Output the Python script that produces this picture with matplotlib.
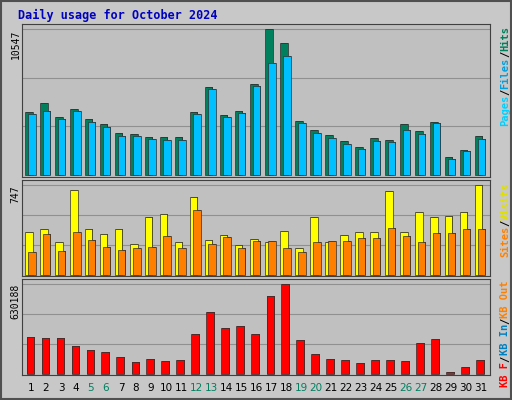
import matplotlib
matplotlib.use("Agg")
import matplotlib.pyplot as plt
import numpy as np

days = list(range(1, 32))
weekends = [5, 6, 12, 13, 19, 20, 26, 27]
hits = [4550,5200,4190,4770,4040,3680,3030,2960,2740,2740,2740,4550,6350,4330,4620,6570,10547,9530,3900,3250,2890,2450,2020,2670,2530,3680,3180,3830,1300,1800,2820]
files = [4400,4620,4040,4620,3830,3470,2820,2820,2600,2530,2530,4400,6210,4190,4480,6430,8090,8590,3750,3030,2670,2240,1880,2450,2380,3250,2960,3750,1160,1730,2600]
visits = [361,386,271,706,378,337,386,255,484,509,271,649,287,328,246,296,271,369,222,484,271,328,353,361,698,361,525,484,493,525,747]
sites = [189,337,197,353,287,230,205,222,230,320,222,542,255,312,222,279,279,222,189,271,279,279,304,304,394,320,271,345,345,378,386]
kbytes = [256000,249000,249000,194000,166000,152000,118000,83000,104000,90000,97000,277000,436000,325000,339000,277000,547000,630188,235000,138000,104000,97000,76000,97000,97000,90000,215000,242000,14000,48000,97000]

fig = plt.figure(figsize=(5.12, 4.0), dpi=100, facecolor="#C8C8C8")
mono = "DejaVu Sans Mono"
fig.text(0.035, 0.962, "Daily usage for October 2024", color="#0000C0",
         fontsize=8.5, fontweight="bold", family=mono, va="center")
fig.patches.append(plt.Rectangle((0.002, 0.002), 0.996, 0.996, transform=fig.transFigure,
                                 fill=False, ec="#505050", lw=1.5))

x = np.array(days)
def mk(bottom, h):
    ax = fig.add_axes([22/512, bottom, 468/512, h])
    ax.set_facecolor("#C0C0C0")
    ax.set_xlim(0.4, 31.6)
    ax.set_xticks([])
    ax.set_yticks([])
    for s in ax.spines.values():
        s.set_color("#404040")
    return ax

def bars(ax, vals, off, color):
    ax.bar(x + off + 0.06, vals, width=0.5, color="#404040", zorder=2)
    ax.bar(x + off, vals, width=0.5, color=color, ec="#303030", lw=0.5, zorder=3)

ax1 = mk(1 - 177/400, 153/400)
ax1.set_ylim(-10547*0.015, 10547*1.035)
for g in np.linspace(0, 10547, 4)[1:]:
    ax1.axhline(g, color="#909090", lw=0.8, zorder=1)
bars(ax1, hits, -0.15, "#00805C")
bars(ax1, files, 0.05, "#00C0FF")
fig.text(0.03, 1 - 30/400, "10547", rotation=90, fontsize=7, family=mono, ha="center", va="top")

ax2 = mk(1 - 276/400, 96/400)
ax2.set_ylim(-747*0.015, 747*1.06)
for g in np.linspace(0, 747, 4)[1:]:
    ax2.axhline(g, color="#909090", lw=0.8, zorder=1)
bars(ax2, visits, -0.15, "#FFFF00")
bars(ax2, sites, 0.05, "#FF8000")
fig.text(0.03, 1 - 185/400, "747", rotation=90, fontsize=7, family=mono, ha="center", va="top")

ax3 = mk(1 - 375/400, 96/400)
ax3.set_ylim(-630188*0.015, 630188*1.06)
for g in np.linspace(0, 630188, 4)[1:]:
    ax3.axhline(g, color="#909090", lw=0.8, zorder=1)
bars(ax3, kbytes, -0.05, "#FF0000")
fig.text(0.03, 1 - 284/400, "630188", rotation=90, fontsize=7, family=mono, ha="center", va="top")

for d in days:
    xf = (22 + (d - 0.4) / 31.2 * 468) / 512
    fig.text(xf, 1 - 388/400, str(d), ha="center", va="center", fontsize=7.5,
             color="#008060" if d in weekends else "#000000")

step = 7.5 * 0.602 / 72 * 100 / 400  # monospace advance in figure fraction
def side(y_top, parts):
    y = y_top
    for t, c in parts:
        fig.text(0.987, y, t, rotation=90, fontsize=7.5, family=mono, fontweight="bold",
                 color=c, ha="center", va="top")
        y -= len(t) * step

side(1 - 26/400, [("Hits", "#00805C"), ("/", "#000000"), ("Files", "#00A0E0"),
                  ("/", "#000000"), ("Pages", "#00D0FF")])
side(1 - 182/400, [("Visits", "#E0E000"), ("/", "#000000"), ("Sites", "#FF8000")])
side(1 - 280/400, [("KB Out", "#FF8000"), ("/", "#000000"), ("KB In", "#0080C0"),
                   ("/", "#000000"), ("KB F", "#FF0000")])

fig.savefig("out.png", dpi=100, facecolor=fig.get_facecolor())
